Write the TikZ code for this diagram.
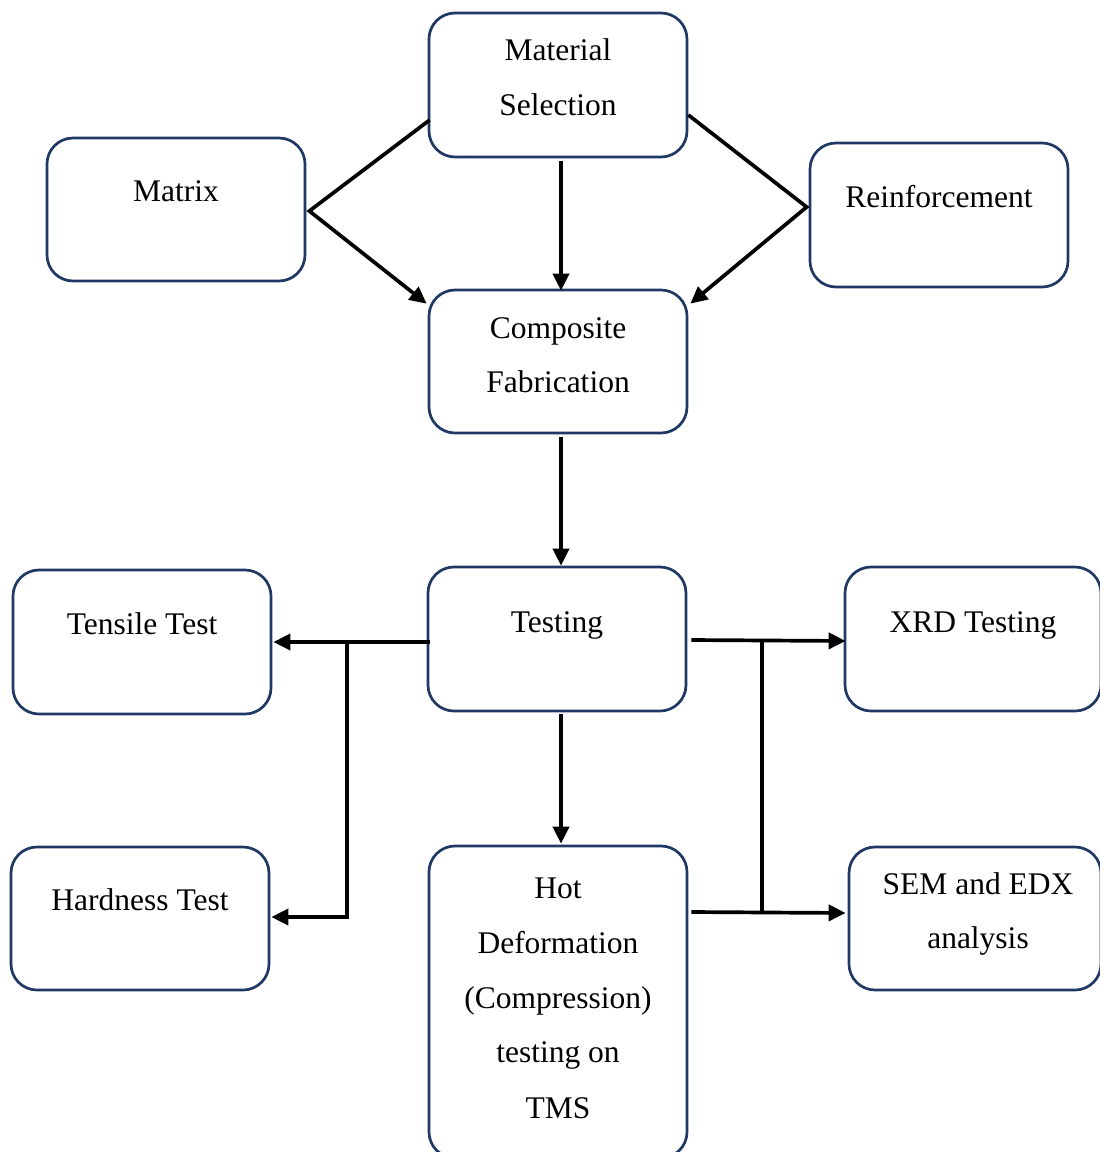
\documentclass[tikz,border=0pt]{standalone}
\usepackage{fontspec}
\setmainfont{Liberation Serif}
\usetikzlibrary{arrows.meta,calc}
\definecolor{boxblue}{RGB}{31,56,100}
\tikzset{
  box/.style={draw=boxblue, line width=2.7pt, rounded corners=26pt, fill=white,
              minimum width=#1, minimum height=144pt, inner sep=0pt},
  box/.default=258pt,
  txt/.style={anchor=base, inner sep=0pt, font=\fontsize{31.5pt}{38pt}\selectfont},
  conn/.style={line width=3.7pt, black, line join=miter},
  arr/.style={conn, -{Triangle[length=17pt,width=16pt]}}
}
\begin{document}
\begin{tikzpicture}[x=1pt,y=-1pt]
\useasboundingbox (0,0) rectangle (1100,1152);
\clip (0,0) rectangle (1100,1152);

% boxes
\node[box] (ms) at (558,85) {};
\node[box, minimum height=143pt] (mx) at (176,209.5) {};
\node[box] (rf) at (939,215) {};
\node[box, minimum height=143pt] (cf) at (558,361.5) {};
\node[box] (ts) at (557,639) {};
\node[box] (tt) at (142,642) {};
\node[box=256pt] (xrd) at (973,639) {};
\node[box, minimum height=143pt] (ht) at (140,918.5) {};
\node[box, minimum height=312pt] (hd) at (558,1002) {};
\node[box=252pt, minimum height=143pt] (sem) at (975,918.5) {};

% texts
\node[txt] (ms1) at (558,60) {Material};
\node[txt] (ms2) at (558,115) {Selection};
\node[txt] (mx1) at (176,201) {Matrix};
\node[txt] (rf1) at (939,207) {Reinforcement};
\node[txt] (cf1) at (558,338) {Composite};
\node[txt] (cf2) at (558,392) {Fabrication};
\node[txt] (ts1) at (557,632) {Testing};
\node[txt] (tt1) at (142,634) {Tensile Test};
\node[txt] (xrd1) at (973,632) {XRD Testing};
\node[txt] (ht1) at (140,910) {Hardness Test};
\node[txt] (sem1) at (978,894) {SEM and EDX};
\node[txt] (sem2) at (978,948) {analysis};
\node[txt] (hd1) at (558,898) {Hot};
\node[txt] (hd2) at (558,953) {Deformation};
\node[txt] (hd3) at (558,1008) {(Compression)};
\node[txt] (hd4) at (558,1062) {testing on};
\node[txt] (hd5) at (558,1118) {TMS};

% connectors
\coordinate (lk) at ($(mx.east)+(3,1.5)$);
\coordinate (rk) at ($(rf.west)+(-2,-8)$);
\draw[arr] ($(ms.west)+(2,35)$) -- (lk) -- ($(cf.north west)+(-1,15)$);
\draw[arr] ($(ms.east)+(0,30)$) -- (rk) -- ($(cf.north east)+(2,15)$);
\draw[arr] ($(ms.south)+(3,3)$) -- ($(cf.north)+(3,2)$);
\draw[arr] ($(cf.south)+(3,3)$) -- ($(ts.north)+(4,0)$);
\draw[arr] ($(ts.south)+(4,2)$) -- ($(hd.north)+(3,-1)$);

\coordinate (lb) at (347,642);
\draw[arr] ($(ts.west)+(3,3)$) -- ($(tt.east)+(1,0)$);
\draw[arr] (lb) |- ($(ht.east)+(1,-1.5)$);

\coordinate (rb) at (762,640);
\draw[arr] ($(ts.east)+(4,1)$) -- ($(xrd.west)+(2,2)$);
\draw[conn] (rb) -- (762,912);
\draw[arr] ($(hd.east)+(3,-90)$) -- ($(sem.west)+(-2,-5.5)$);
\end{tikzpicture}
\end{document}
